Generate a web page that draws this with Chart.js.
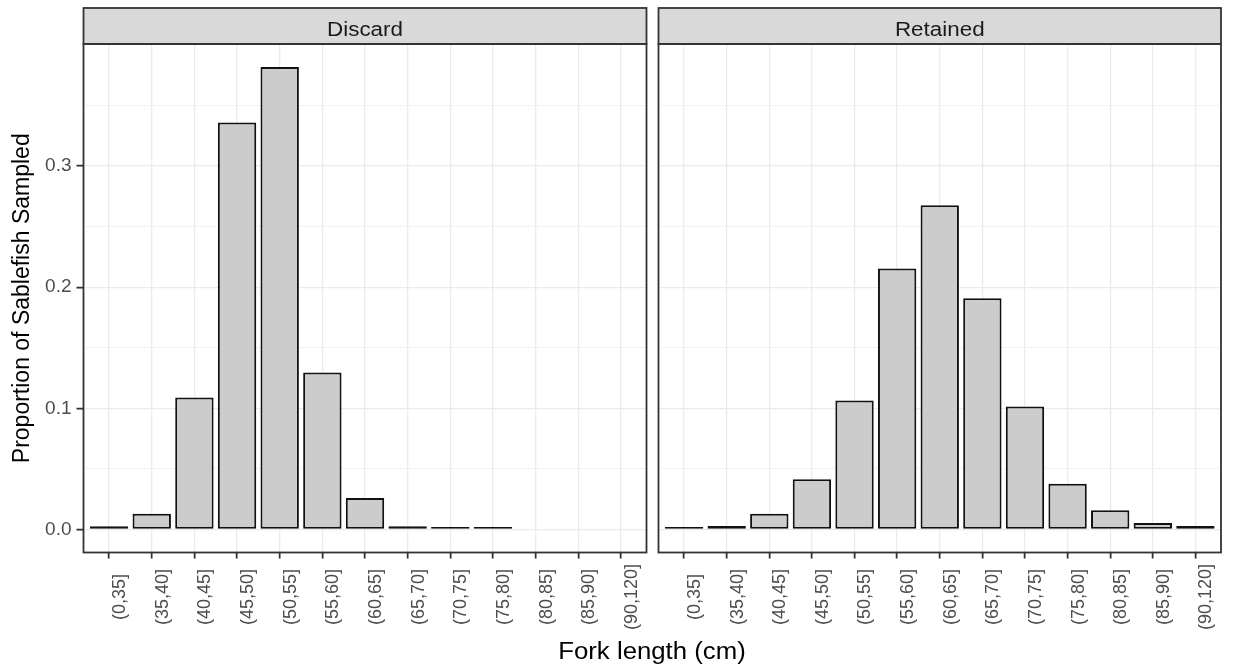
<!DOCTYPE html>
<html>
<head>
<meta charset="utf-8">
<script src="https://cdn.jsdelivr.net/npm/chart.js@4.4.1/dist/chart.umd.min.js"></script>
<style>
    html, body { margin: 0; padding: 0; background: #fff; }
    #wrap { position: relative; width: 1233px; height: 664px; font-family: "Liberation Sans", Arial, sans-serif; }
    canvas { position: absolute; top: 0; }
    #xtitle { position: absolute; left: 652px; top: 651px; transform: translate(-50%, -50%) scaleX(1.12);
        font-size: 23px; color: #000; white-space: nowrap; }
</style>
</head>
<body>
<div id="wrap">
    <canvas id="leftPanel" width="652" height="664" style="left:0"></canvas>
    <canvas id="rightPanel" width="581" height="664" style="left:652px"></canvas>
    <div id="xtitle">Fork length (cm)</div>
</div>
<script>
    const categories = ['(0,35]', '(35,40]', '(40,45]', '(45,50]', '(50,55]', '(55,60]', '(60,65]',
        '(65,70]', '(70,75]', '(75,80]', '(80,85]', '(85,90]', '(90,120]'];
    const discard = [0.0025, 0.013, 0.109, 0.336, 0.3817, 0.1296, 0.026, 0.0025, 0.0003, 0.0003, null, null, null];
    const retained = [0.0003, 0.0028, 0.013, 0.0414, 0.1064, 0.2154, 0.2676, 0.1909, 0.1014, 0.0376, 0.0157, 0.0053, 0.0028];
    const yTicks = [0, 0.05, 0.1, 0.15, 0.2, 0.25, 0.3, 0.35];

    const FONT = '"Liberation Sans", Arial, sans-serif';
    const dataMax = Math.max(...discard.filter(v => v !== null), ...retained);
    const yMin = -0.05 * dataMax;
    const yMax = dataMax * 1.05;

    function isMajor(v) {
        return Math.abs(v * 10 - Math.round(v * 10)) < 1e-6;
    }

    const facetPlugin = {
        id: 'facet',
        afterDraw(chart, args, opts) {
            const ctx = chart.ctx;
            const a = chart.chartArea;
            const xs = chart.scales.x;
            ctx.save();
            // strip on top of the panel
            ctx.fillStyle = '#d9d9d9';
            ctx.fillRect(a.left, 8, a.right - a.left, a.top - 8);
            ctx.strokeStyle = '#333333';
            ctx.lineWidth = 1.8;
            ctx.strokeRect(a.left, 8, a.right - a.left, a.top - 8);
            ctx.save();
            ctx.fillStyle = '#1a1a1a';
            ctx.font = '20px ' + FONT;
            ctx.textAlign = 'center';
            ctx.textBaseline = 'alphabetic';
            ctx.translate((a.left + a.right) / 2, 36);
            ctx.scale(1.12, 1);
            ctx.fillText(opts.title, 0, 0);
            ctx.restore();
            // panel border
            ctx.strokeRect(a.left, a.top, a.right - a.left, a.bottom - a.top);
            // x tick labels, rotated
            ctx.fillStyle = '#4d4d4d';
            ctx.font = '18px ' + FONT;
            ctx.textAlign = 'center';
            ctx.textBaseline = 'top';
            categories.forEach((c, i) => {
                const px = xs.getPixelForValue(i);
                ctx.save();
                ctx.translate(px + 2, 597);
                ctx.rotate(-Math.PI / 2);
                ctx.fillText(c, 0, 0);
                ctx.restore();
            });
            if (opts.yTitle) {
                ctx.fillStyle = '#000';
                ctx.font = '23px ' + FONT;
                ctx.textBaseline = 'middle';
                ctx.translate(22.5, (a.top + a.bottom) / 2);
                ctx.rotate(-Math.PI / 2);
                ctx.fillText(opts.yTitle, 0, 0);
            }
            ctx.restore();
        }
    };

    function makePanel(id, title, values, isLeft) {
        const canvas = document.getElementById(id);
        const canvasH = canvas.height;
        return new Chart(canvas, {
            type: 'bar',
            data: {
                datasets: [{
                    data: values.map((v, i) => ({ x: i, y: v })),
                    backgroundColor: '#cccccc',
                    borderColor: '#111111',
                    borderWidth: 2,
                    borderSkipped: false,
                    barPercentage: 0.9,
                    categoryPercentage: 1,
                    minBarLength: 2.5,
                }]
            },
            options: {
                responsive: false,
                animation: false,
                layout: { padding: isLeft ? { top: 44, left: 0, right: 5.5, bottom: 0 } : { top: 44, left: 6.5, right: 12, bottom: 0 } },
                plugins: {
                    legend: { display: false },
                    tooltip: { enabled: false },
                    facet: { title: title, yTitle: isLeft ? 'Proportion of Sablefish Sampled' : null }
                },
                scales: {
                    x: {
                        type: 'linear',
                        offset: false,
                        min: -0.6,
                        max: categories.length - 0.4,
                        afterBuildTicks: s => { s.ticks = categories.map((c, i) => ({ value: i })); },
                        afterFit: s => { s.height = canvasH - 552.5; },
                        ticks: { display: false },
                        border: { display: false },
                        grid: { offset: false, color: '#ebebeb', lineWidth: 1.3, tickColor: '#333333',
                            tickLength: 6, tickWidth: 1.8, drawTicks: true }
                    },
                    y: {
                        min: yMin,
                        max: yMax,
                        afterBuildTicks: s => { s.ticks = yTicks.map(v => ({ value: v })); },
                        afterFit: s => { s.width = isLeft ? 83.5 : 0; },
                        border: { display: false },
                        ticks: {
                            display: isLeft,
                            padding: 5,
                            color: '#4d4d4d',
                            font: { family: FONT, size: 19 },
                            callback: v => isMajor(v) ? v.toFixed(1) : ''
                        },
                        grid: {
                            color: c => (c.tick && isMajor(c.tick.value)) ? '#ebebeb' : '#f2f2f2',
                            lineWidth: c => (c.tick && isMajor(c.tick.value)) ? 1.3 : 1,
                            drawTicks: isLeft,
                            tickLength: 7,
                            tickWidth: 1.8,
                            tickColor: c => (c.tick && isMajor(c.tick.value)) ? '#333333' : 'rgba(0,0,0,0)'
                        }
                    }
                }
            },
            plugins: [facetPlugin]
        });
    }

    makePanel('leftPanel', 'Discard', discard, true);
    makePanel('rightPanel', 'Retained', retained, false);
</script>
</body>
</html>
